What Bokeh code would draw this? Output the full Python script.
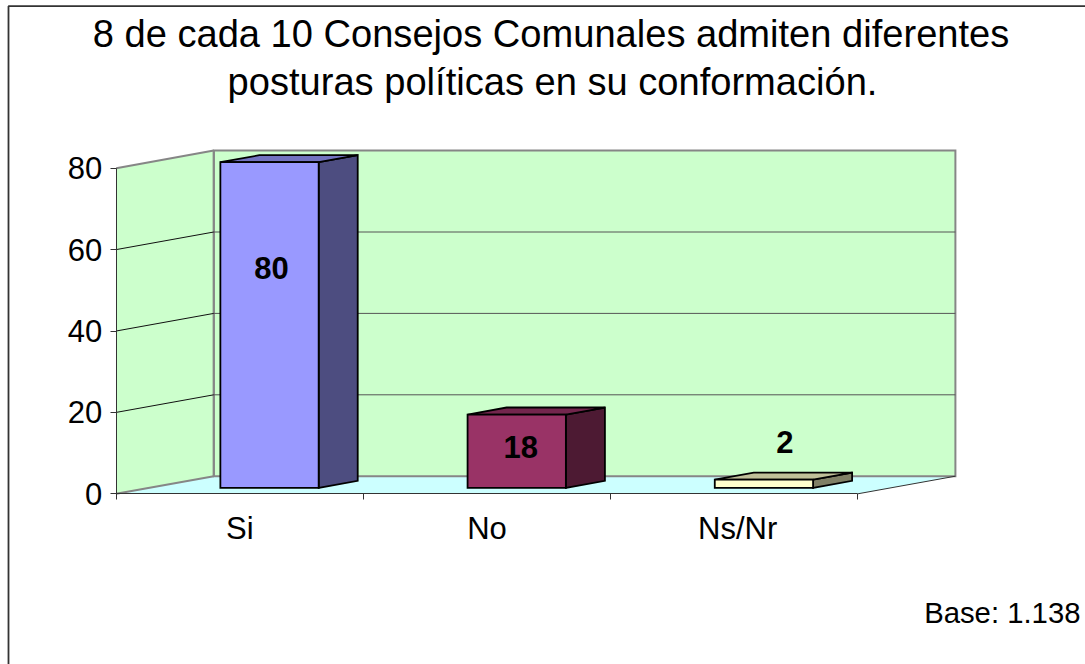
from bokeh.plotting import figure
from bokeh.models import Range1d, FixedTicker, LinearAxis
from bokeh.core.properties import value
from bokeh.embed import file_html
from bokeh.resources import INLINE

# ---- data ----
categories = ["Si", "No", "Ns/Nr"]
values = [80, 18, 2]
y_ticks = [0, 20, 40, 60, 80]
title_lines = ["8 de cada 10 Consejos Comunales admiten diferentes",
               "posturas políticas en su conformación."]
note = "Base: 1.138"

front_colors = ["#9999FF", "#993366", "#FFFFCC"]
top_colors = ["#7373C0", "#73264D", "#C0C099"]
side_colors = ["#4D4D80", "#4D1A33", "#808066"]

# ---- scale / layout of the 3D box ----
W, H = 1085, 664
FONT = "Liberation Sans"
X0_PX, Y0_PX = 115.7, 493.3      # origin of the front axes, in page pixels
CAT_PX = 247.2                   # pixels per category
VAL_PX = 4.07                    # pixels per unit of value
DEPTH_X = 97.6 / CAT_PX          # wall depth in category units
DEPTH_Y = 17.6 / VAL_PX          # wall depth in value units
YMAX = y_ticks[-1]
N = len(categories)

def px_x(px):
    return (px - X0_PX) / CAT_PX

def px_y(py):
    return (Y0_PX - py) / VAL_PX

def proj(x, v, d=0.0):
    """Oblique projection: category x, value v, depth d (0 front .. 1 back)."""
    return x + d * DEPTH_X, v + d * DEPTH_Y

p = figure(width=W, height=H, output_backend="svg", toolbar_location=None,
           x_range=Range1d(px_x(0), px_x(W)), y_range=Range1d(px_y(H), px_y(0)),
           min_border=0, outline_line_color=None, x_axis_type=None, y_axis_type=None,
           background_fill_color="white", border_fill_color="white")
p.grid.visible = False

def poly(points, fill, line=None, lw=1.0):
    p.patch([q[0] for q in points], [q[1] for q in points], fill_color=fill,
            line_color=line, line_width=lw, line_join="miter")

def seg(a, b, color, lw=1.0):
    p.line([a[0], b[0]], [a[1], b[1]], line_color=color, line_width=lw)

WALL, FLOOR, EDGE = "#CCFFCC", "#CCFFFF", "#868686"

# chart border (left and top only reach the picture)
p.line([px_x(8), px_x(8), px_x(W)], [px_y(H), px_y(5.7), px_y(5.7)],
       line_color="#333333", line_width=1.8)

# floor, side wall and back wall
poly([proj(0, 0), proj(0, 0, 1), proj(N, 0, 1), proj(N, 0)], FLOOR)
poly([proj(0, 0), proj(0, YMAX), proj(0, YMAX, 1), proj(0, 0, 1)], WALL)
poly([proj(0, 0, 1), proj(0, YMAX, 1), proj(N, YMAX, 1), proj(N, 0, 1)], WALL, EDGE, 2)
seg(proj(0, YMAX), proj(0, YMAX, 1), EDGE, 2)
seg(proj(0, 0), proj(0, 0, 1), EDGE, 2)
seg(proj(0, 0, 1), proj(0, YMAX, 1), EDGE, 2)
seg(proj(N, 0), proj(N, 0, 1), "#333333", 1)

# gridlines
for t in y_ticks[1:-1]:
    seg(proj(0, t), proj(0, t, 1), "#111111", 1)
    seg(proj(0, t, 1), proj(N, t, 1), "#555555", 1)

# bars
BAR_W = 98.3 / CAT_PX
BAR_OFFSET = 0.486
D0, D1 = 0.34, 0.74
for i, v in enumerate(values):
    x0 = i + BAR_OFFSET - BAR_W / 2
    x1 = x0 + BAR_W
    lw = 1.8
    poly([proj(x1, 0, D0), proj(x1, v, D0), proj(x1, v, D1), proj(x1, 0, D1)],
         side_colors[i], "black", lw)
    poly([proj(x0, v, D0), proj(x0, v, D1), proj(x1, v, D1), proj(x1, v, D0)],
         top_colors[i], "black", lw)
    poly([proj(x0, 0, D0), proj(x0, v, D0), proj(x1, v, D0), proj(x1, 0, D0)],
         front_colors[i], "black", lw)

# value labels: centred on the bar front, shifted from the top of the bar
label_dy = [106, 32, -38]
label_dx = [2, 4, 21]
for i, v in enumerate(values):
    cx, cy = proj(i + BAR_OFFSET, v, D0)
    p.text([cx], [cy], text=[str(v)], x_offset=label_dx[i], y_offset=label_dy[i],
           text_font=value(FONT), text_font_style="bold", text_font_size="31px",
           text_align="center", text_baseline="middle", text_color="black")

# axes
yax = LinearAxis(ticker=FixedTicker(ticks=y_ticks), bounds=(0, YMAX), fixed_location=0,
                 axis_line_color="#333333", axis_line_width=1,
                 major_tick_line_color="#333333", major_tick_out=6, major_tick_in=0,
                 minor_tick_line_color=None, major_label_standoff=8,
                 major_label_text_font=FONT, major_label_text_font_size="31px",
                 major_label_text_color="black")
p.add_layout(yax, "left")

centers = [i + 0.5 for i in range(N)]
centers[2] += 0.014
xax = LinearAxis(ticker=FixedTicker(ticks=centers, minor_ticks=list(range(N + 1))),
                 bounds=(0, N), fixed_location=0,
                 major_label_overrides={c: s for c, s in zip(centers, categories)},
                 axis_line_color="#333333", axis_line_width=1,
                 major_tick_line_color=None, major_tick_out=0, major_tick_in=0,
                 minor_tick_line_color="#333333", minor_tick_out=6, minor_tick_in=0,
                 major_label_standoff=11,
                 major_label_text_font=FONT, major_label_text_font_size="31px",
                 major_label_text_color="black")
p.add_layout(xax, "below")

# title and note
for line, cx, py in zip(title_lines, (550.5, 552), (33, 81)):
    p.text([px_x(cx)], [px_y(py)], text=[line], text_font=value(FONT), text_font_size="38.1px",
           text_align="center", text_baseline="middle", text_color="black")
p.text([px_x(1080)], [px_y(612)], text=[note], text_font=value(FONT), text_font_size="29.3px",
       text_align="right", text_baseline="middle", text_color="black")

open("out.html", "w").write(file_html(p, INLINE))
